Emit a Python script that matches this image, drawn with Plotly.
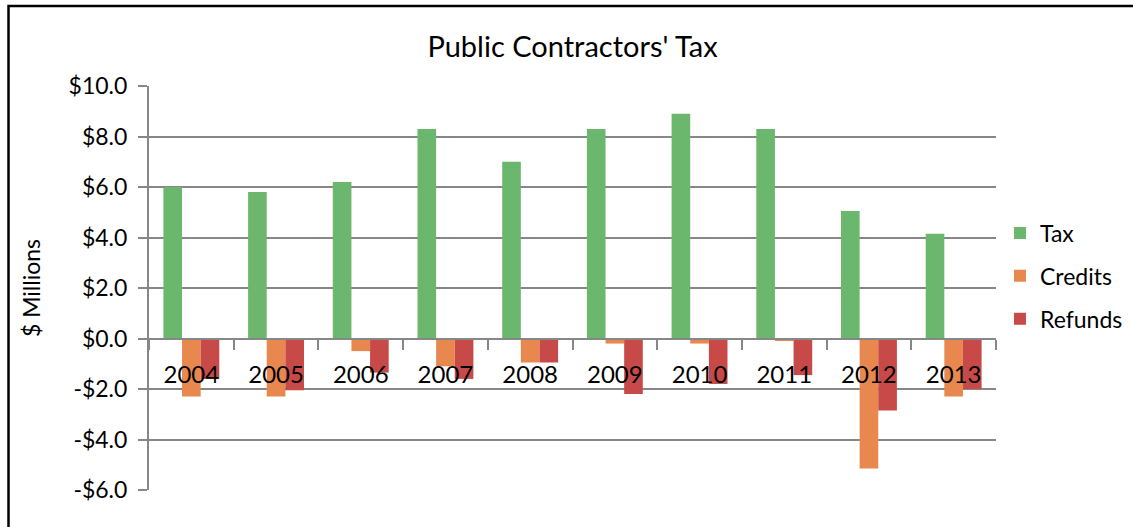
import plotly.graph_objects as go

# Fiscal years and amounts in $ millions
years = ["2004", "2005", "2006", "2007", "2008", "2009", "2010", "2011", "2012", "2013"]
tax = [6.0, 5.8, 6.2, 8.3, 7.0, 8.3, 8.9, 8.3, 5.05, 4.15]
credits = [-2.3, -2.3, -0.5, -1.1, -0.95, -0.2, -0.2, -0.1, -5.15, -2.3]
refunds = [-1.6, -2.05, -1.35, -1.6, -0.95, -2.2, -1.8, -1.45, -2.85, -2.0]

y_ticks = [-6, -4, -2, 0, 2, 4, 6, 8, 10]
y_labels = ["-$6.0", "-$4.0", "-$2.0", "$0.0", "$2.0", "$4.0", "$6.0", "$8.0", "$10.0"]

FONT = "Lato, 'Open Sans', sans-serif"
GRID = "#878787"

fig = go.Figure()
for name, vals, color in [
    ("Tax", tax, "#6bb76d"),
    ("Credits", credits, "#e8884f"),
    ("Refunds", refunds, "#c84a48"),
]:
    fig.add_trace(go.Bar(x=years, y=vals, name=name, marker_color=color,
                         marker_line_width=0, legendgroup=name))

y_min, y_max = -6, 10
zero_pos = (0 - y_min) / (y_max - y_min)

fig.update_layout(
    width=1133, height=527,
    margin=dict(l=149, r=137, t=86, b=37, autoexpand=False),
    paper_bgcolor="white", plot_bgcolor="white",
    font=dict(family=FONT, size=23, color="black"),
    barmode="group", bargap=0.34, bargroupgap=0,
    title=dict(text="Public Contractors' Tax", x=0.5, xref="paper", xanchor="center",
               y=1 - 47 / 527, yanchor="middle", font=dict(size=29, family=FONT)),
    showlegend=True,
    legend=dict(x=1.0047, y=(490 - 276) / 404, xanchor="left", yanchor="middle",
                font=dict(size=23, family=FONT), tracegroupgap=10,
                bgcolor="rgba(0,0,0,0)"),
    xaxis=dict(type="category", anchor="free", position=zero_pos,
               showline=True, linecolor=GRID, linewidth=2,
               ticks="outside", tickson="boundaries", ticklen=10, tickwidth=2,
               tickcolor=GRID, showgrid=False, ticklabelstandoff=15,
               tickfont=dict(size=24, family=FONT), layer="above traces"),
    yaxis=dict(range=[y_min, y_max], tickvals=y_ticks, ticktext=y_labels,
               showline=True, linecolor=GRID, linewidth=2,
               ticks="outside", ticklen=9, tickwidth=2, tickcolor=GRID,
               showgrid=True, gridcolor=GRID, gridwidth=2, zeroline=False,
               ticklabelstandoff=6,
               tickfont=dict(size=23, family=FONT),
               title=dict(text="$ Millions", font=dict(size=23, family=FONT), standoff=22)),
)

# Chart frame (top and left edges sit inside the page)
fig.add_shape(type="rect", xref="paper", yref="paper",
              x0=(8.5 - 149) / 847, x1=1.3, y0=-0.3, y1=(490 - 6) / 404,
              line=dict(color="black", width=2.5), layer="above")

fig.write_html("out.html")
